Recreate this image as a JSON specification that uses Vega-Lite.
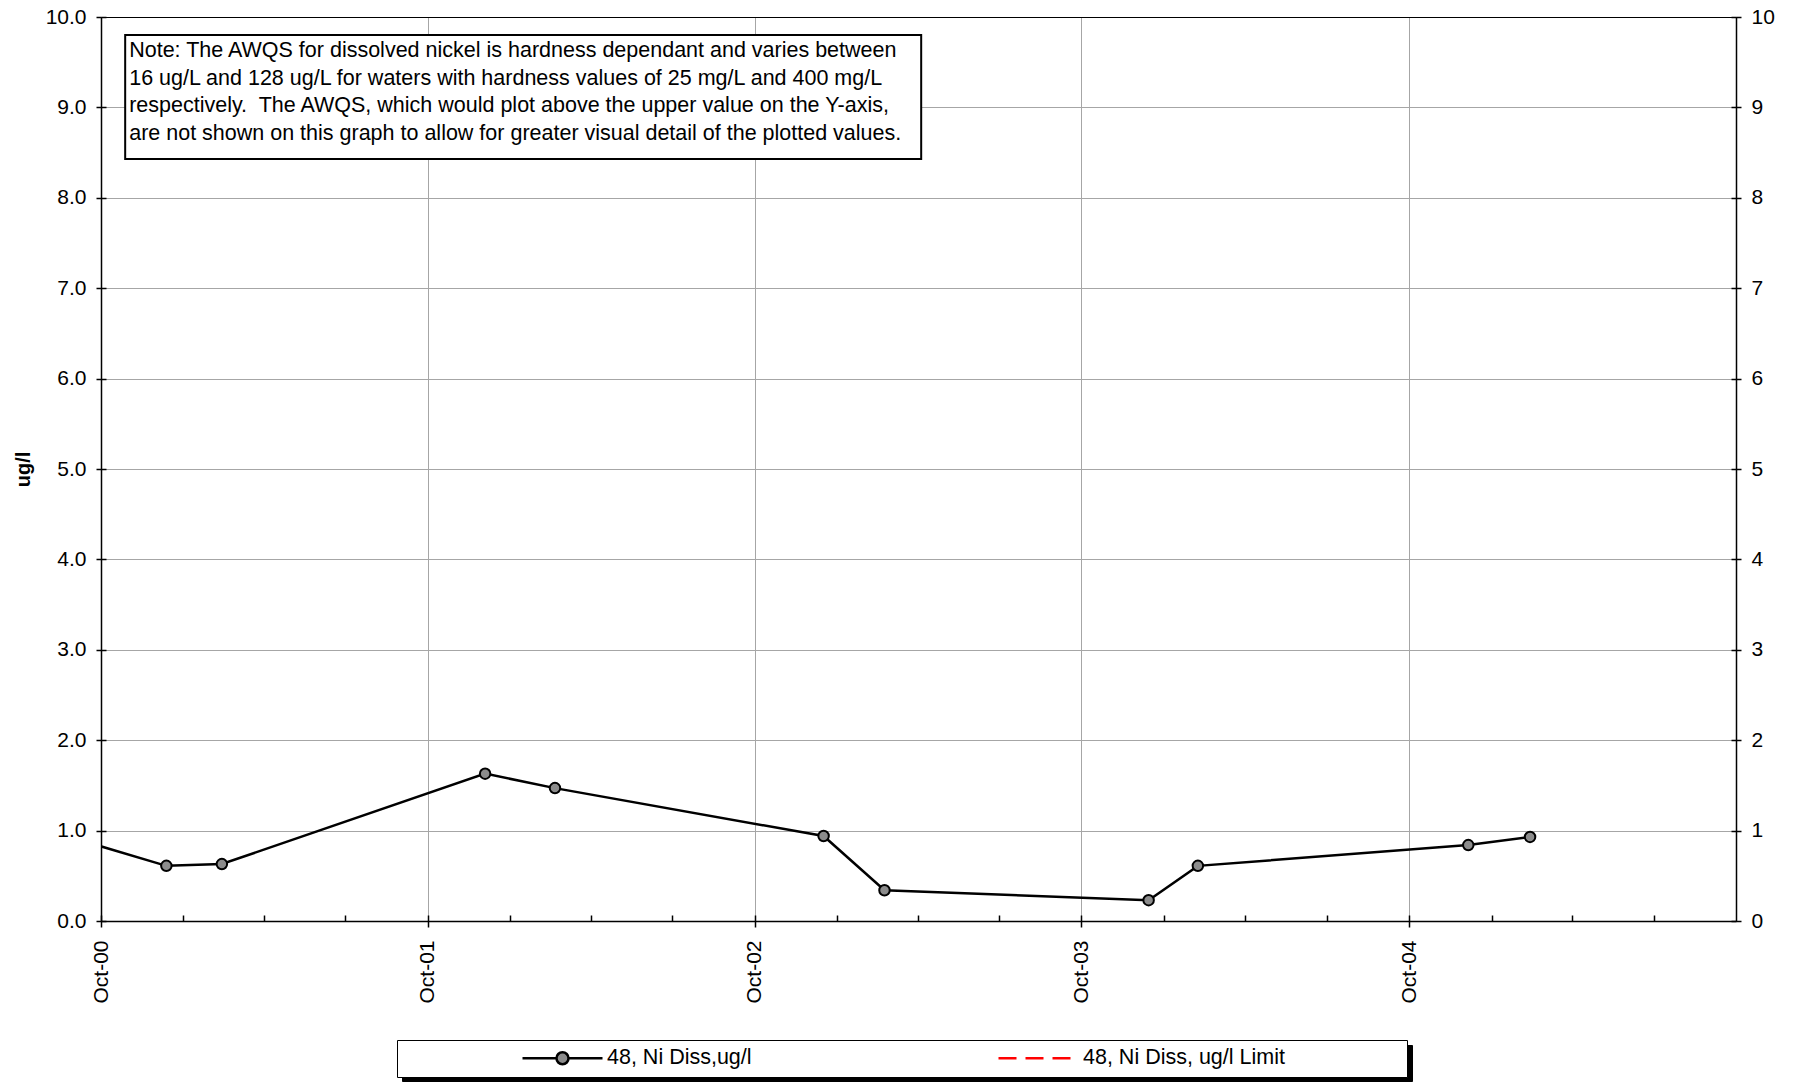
{
  "$schema": "https://vega.github.io/schema/vega-lite/v6.json",
  "width": 1635,
  "height": 904,
  "autosize": "none",
  "padding": {"left": 101, "top": 17, "right": 58, "bottom": 162},
  "background": "white",
  "config": {
    "font": "Liberation Sans",
    "view": {"stroke": "#000000", "strokeWidth": 1},
    "axis": {"labelFont": "Liberation Sans", "labelFontSize": 21, "labelColor": "#000000", "tickColor": "#000000", "domainColor": "#000000", "gridColor": "#a6a6a6", "titleColor": "#000000", "titleFont": "Liberation Sans"},
    "legend": {"labelFont": "Liberation Sans", "titleFont": "Liberation Sans"}
  },
  "datasets": {
    "ni": [
      {"date": "2000-02-15", "value": 1.50, "series": "48, Ni Diss,ug/l"},
      {"date": "2000-12-13", "value": 0.61, "series": "48, Ni Diss,ug/l"},
      {"date": "2001-02-13", "value": 0.63, "series": "48, Ni Diss,ug/l"},
      {"date": "2001-12-04", "value": 1.63, "series": "48, Ni Diss,ug/l"},
      {"date": "2002-02-20", "value": 1.47, "series": "48, Ni Diss,ug/l"},
      {"date": "2002-12-17", "value": 0.94, "series": "48, Ni Diss,ug/l"},
      {"date": "2003-02-23", "value": 0.34, "series": "48, Ni Diss,ug/l"},
      {"date": "2003-12-15", "value": 0.23, "series": "48, Ni Diss,ug/l"},
      {"date": "2004-02-08", "value": 0.61, "series": "48, Ni Diss,ug/l"},
      {"date": "2004-12-06", "value": 0.84, "series": "48, Ni Diss,ug/l"},
      {"date": "2005-02-13", "value": 0.93, "series": "48, Ni Diss,ug/l"}
    ]
  },
  "data": {"name": "ni"},
  "layer": [
    {
      "mark": {"type": "line", "clip": true, "strokeWidth": 2.5},
      "encoding": {
        "x": {
          "field": "date", "type": "temporal",
          "scale": {"type": "utc", "nice": false, "domain": [{"year": 2000, "month": 10, "date": 1, "utc": true}, {"year": 2005, "month": 10, "date": 1, "utc": true}]},
          "axis": {
            "orient": "bottom", "title": null, "format": "%b-%y", "labelAngle": -90, "labelAlign": "right", "labelBaseline": "middle",
            "values": [
              {"year": 2000, "month": 10, "date": 1, "utc": true},
              {"year": 2001, "month": 10, "date": 1, "utc": true},
              {"year": 2002, "month": 10, "date": 1, "utc": true},
              {"year": 2003, "month": 10, "date": 1, "utc": true},
              {"year": 2004, "month": 10, "date": 1, "utc": true}
            ],
            "tickSize": 6, "tickWidth": 1.5, "labelPadding": 13, "grid": true, "gridColor": "#a6a6a6", "domainWidth": 1.5
          }
        },
        "y": {
          "field": "value", "type": "quantitative",
          "scale": {"domain": [0, 10], "nice": false},
          "axis": {
            "orient": "left", "title": "ug/l", "titleFontSize": 20, "titleFontWeight": "bold", "titlePadding": 12,
            "values": [0, 1, 2, 3, 4, 5, 6, 7, 8, 9, 10], "format": ".1f", "tickSize": 5, "tickWidth": 1.5, "labelPadding": 10,
            "grid": true,
            "gridColor": {"condition": {"test": "datum.value == 0 || datum.value == 10", "value": "#000000"}, "value": "#a6a6a6"},
            "domainWidth": 1.5
          }
        },
        "color": {
          "field": "series", "type": "nominal",
          "scale": {"domain": ["48, Ni Diss,ug/l", "48, Ni Diss, ug/l Limit"], "range": ["#000000", "#ff0000"]},
          "legend": {
            "orient": "none", "legendX": 296, "legendY": 1023, "direction": "horizontal", "columns": 2, "zindex": 3,
            "title": "\u200b\u00a0\u00a0\u00a0\u00a0\u00a0\u00a0\u00a0\u00a0\u00a0\u00a0\u00a0\u00a0\u00a0\u00a0\u00a0\u00a0\u00a0\u00a0\u00a0\u00a0\u00a0\u200b",
            "titleOrient": "left", "titlePadding": 0, "titleFontSize": 19.8, "titleLimit": 1000,
            "padding": 8, "strokeColor": "#000000", "fillColor": "#ffffff",
            "symbolSize": 6400, "clipHeight": 20, "columnPadding": 245, "labelOffset": 3,
            "labelFontSize": 21.5, "labelColor": "#000000", "labelLimit": 2000,
            "labelExpr": "datum.index == 1 ? datum.label + '\u00a0\u00a0\u00a0\u00a0\u00a0\u00a0\u00a0\u00a0\u00a0\u00a0\u00a0\u00a0\u00a0\u00a0\u00a0\u00a0\u00a0\u00a0\u00a0\u200b' : datum.label",
            "encode": {
              "symbols": {
                "update": {
                  "shape": {"signal": "datum.index == 0 ? 'M-1,0H-0.15M0.15,0H1M-0.15,0A0.15,0.15 0 1,1 0.15,0A0.15,0.15 0 1,1 -0.15,0Z' : 'M-1,0H1'"},
                  "fill": {"signal": "datum.index == 0 ? '#8c8c8c' : 'transparent'"},
                  "stroke": {"signal": "datum.index == 0 ? '#000000' : '#ff0000'"},
                  "strokeDash": {"signal": "datum.index == 0 ? [] : [18, 9]"},
                  "strokeWidth": {"value": 2.5},
                  "opacity": {"value": 1}
                }
              }
            }
          }
        }
      }
    },
    {
      "mark": {"type": "circle", "clip": true, "size": 110, "fill": "#8c8c8c", "stroke": "#000000", "strokeWidth": 2, "opacity": 1},
      "encoding": {
        "x": {
          "field": "date", "type": "temporal",
          "axis": {
            "orient": "bottom", "title": null, "labels": false, "grid": false, "domain": false, "tickSize": 6, "offset": -6, "tickWidth": 1.5,
            "values": [
              {"year": 2000, "month": 10, "date": 1, "utc": true}, {"year": 2001, "month": 1, "date": 1, "utc": true}, {"year": 2001, "month": 4, "date": 1, "utc": true}, {"year": 2001, "month": 7, "date": 1, "utc": true},
              {"year": 2001, "month": 10, "date": 1, "utc": true}, {"year": 2002, "month": 1, "date": 1, "utc": true}, {"year": 2002, "month": 4, "date": 1, "utc": true}, {"year": 2002, "month": 7, "date": 1, "utc": true},
              {"year": 2002, "month": 10, "date": 1, "utc": true}, {"year": 2003, "month": 1, "date": 1, "utc": true}, {"year": 2003, "month": 4, "date": 1, "utc": true}, {"year": 2003, "month": 7, "date": 1, "utc": true},
              {"year": 2003, "month": 10, "date": 1, "utc": true}, {"year": 2004, "month": 1, "date": 1, "utc": true}, {"year": 2004, "month": 4, "date": 1, "utc": true}, {"year": 2004, "month": 7, "date": 1, "utc": true},
              {"year": 2004, "month": 10, "date": 1, "utc": true}, {"year": 2005, "month": 1, "date": 1, "utc": true}, {"year": 2005, "month": 4, "date": 1, "utc": true}, {"year": 2005, "month": 7, "date": 1, "utc": true}
            ]
          }
        },
        "y": {
          "field": "value", "type": "quantitative",
          "axis": {"orient": "right", "title": null, "values": [0, 1, 2, 3, 4, 5, 6, 7, 8, 9, 10], "format": "d", "tickSize": 5, "tickWidth": 1.5, "labelPadding": 10, "grid": false, "domainWidth": 1.5}
        }
      }
    },
    {
      "data": {"values": [{}]},
      "mark": {"type": "rect", "fill": "#ffffff", "stroke": "#000000", "strokeWidth": 2},
      "encoding": {
        "x": {"datum": {"year": 2000, "month": 10, "date": 28, "utc": true}, "type": "temporal", "axis": null},
        "x2": {"datum": {"year": 2003, "month": 4, "date": 5, "utc": true}},
        "y": {"datum": 9.8, "type": "quantitative", "axis": {"orient": "left", "title": null, "labels": false, "domain": false, "grid": false, "offset": -5, "tickSize": 5, "tickWidth": 1.5, "values": [0, 1, 2, 3, 4, 5, 6, 7, 8, 9, 10]}},
        "y2": {"datum": 8.43}
      }
    },
    {
      "data": {"values": [{}]},
      "mark": {
        "type": "text", "align": "left", "baseline": "top", "fontSize": 21.5, "lineHeight": 27.5, "dx": 4, "dy": 5, "color": "#000000", "font": "Liberation Sans",
        "text": [
          "Note: The AWQS for dissolved nickel is hardness dependant and varies between",
          "16 ug/L and 128 ug/L for waters with hardness values of 25 mg/L and 400 mg/L",
          "respectively.\u00a0 The AWQS, which would plot above the upper value on the Y-axis,",
          "are not shown on this graph to allow for greater visual detail of the plotted values."
        ]
      },
      "encoding": {
        "x": {"datum": {"year": 2000, "month": 10, "date": 28, "utc": true}, "type": "temporal", "axis": null},
        "y": {"datum": 9.8, "type": "quantitative", "axis": {"orient": "right", "title": null, "labels": false, "domain": false, "grid": false, "offset": -5, "tickSize": 5, "tickWidth": 1.5, "values": [0, 1, 2, 3, 4, 5, 6, 7, 8, 9, 10]}}
      }
    },
    {
      "data": {"values": []},
      "mark": {"type": "point"},
      "encoding": {
        "shape": {
          "field": "series", "type": "nominal",
          "scale": {"domain": ["shadow-a", "shadow-b"], "range": ["circle", "circle"]},
          "legend": {
            "orient": "none", "legendX": 301, "legendY": 1028, "direction": "horizontal", "columns": 2, "zindex": 1,
            "title": null,
            "padding": 8, "strokeColor": "#000000", "fillColor": "#000000",
            "symbolSize": 160000, "symbolStrokeWidth": 0, "clipHeight": 20, "columnPadding": 194, "labelOffset": 0,
            "labelExpr": "''",
            "encode": {
              "symbols": {
                "update": {
                  "shape": {"value": "M-1,0H1"},
                  "fill": {"value": "transparent"},
                  "stroke": {"value": "transparent"},
                  "strokeWidth": {"value": 0},
                  "opacity": {"value": 0}
                }
              }
            }
          }
        }
      }
    }
  ],
  "resolve": {"axis": {"x": "independent", "y": "independent"}}
}
